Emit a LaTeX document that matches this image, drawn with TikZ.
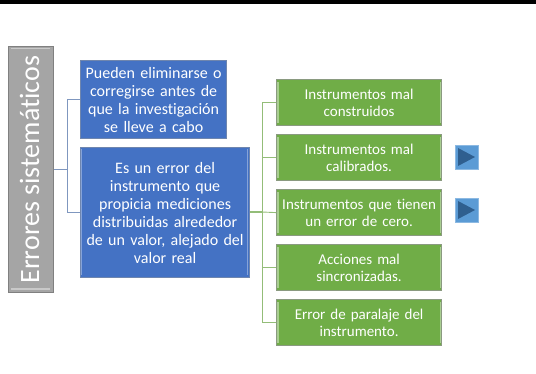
\documentclass[tikz,border=0pt]{standalone}
\usepackage{fontspec}
\setmainfont[Ligatures=NoCommon]{Carlito}
\definecolor{bluefill}{HTML}{4472C4}
\definecolor{blueedge}{HTML}{6F86AE}
\definecolor{greenfill}{HTML}{70AD47}
\definecolor{greenedge}{HTML}{8A9A80}
\definecolor{greyfill}{HTML}{A5A5A5}
\definecolor{btnfill}{HTML}{5B9BD5}
\definecolor{btnmark}{HTML}{2F5F8F}
\definecolor{bluelink}{HTML}{7F97BF}
\definecolor{greenlink}{HTML}{93BD78}
\tikzset{
 x=1pt,y=-1pt,
 boxbase/.style={draw,line width=1.2pt,inner sep=0pt,align=center,text=white,anchor=north west,font=\fontsize{16}{18}\selectfont},
 bluebox/.style={boxbase,fill=bluefill,draw=blueedge},
 greenbox/.style={boxbase,fill=greenfill,draw=greenedge,minimum width=165pt,minimum height=46pt,text width=165pt,font=\fontsize{15}{17}\selectfont},
 bluelinkstyle/.style={draw=bluelink,line width=0.9pt},
 greenlinkstyle/.style={draw=greenlink,line width=0.9pt},
 btnbox/.style={draw=btnfill!70!white,fill=btnfill,line width=.6pt,minimum width=23pt,minimum height=24pt,inner sep=0pt,anchor=north west},
 btnmarkstyle/.style={fill=btnmark,draw=none},
 bevelblue/.style={draw=bluefill!65!white,line width=1.2pt},
 bevelgreen/.style={draw=greenfill!60!white,line width=1.2pt},
 bevelgrey/.style={draw=greyfill!60!white,line width=1.2pt},
}
\begin{document}
\begin{tikzpicture}
\useasboundingbox (0,0) rectangle (536,374);
\fill[black] (0,0) rectangle (536,4);
\node[boxbase,fill=greyfill,draw=gray,minimum width=45pt,minimum height=246pt,anchor=north west] (root) at (8,46) {};
\draw[bevelgrey] (11,48.5) -- (50,48.5);
\draw[bevelgrey] (11,289) -- (50,289);
\node[rotate=90,text=white,font=\fontsize{28}{32}\selectfont,inner sep=0pt] (roottext) at ([xshift=-1.5pt]root.center) {Errores sistemáticos};
\node[bluebox,minimum width=146pt,minimum height=78pt,text width=146pt] (b1) at (80,60) {Pueden eliminarse o\\corregirse antes de\\que la investigación\\se lleve a cabo};
\node[bluebox,minimum width=169pt,minimum height=130pt,text width=169pt] (b2) at (80,147) {Es un error del\\instrumento que\\propicia mediciones\\distribuidas alrededor\\de un valor, alejado del\\valor real};
\node[greenbox] (g1) at (276,79) {Instrumentos mal\\construidos};
\node[greenbox] (g2) at (276,134) {Instrumentos mal\\calibrados.};
\node[greenbox] (g3) at (276,189) {Instrumentos que tienen\\un error de cero.};
\node[greenbox] (g4) at (276,244) {Acciones mal\\sincronizadas.};
\node[greenbox] (g5) at (276,299) {Error de paralaje del\\instrumento.};
\draw[bevelblue] (81.5,149) -- (81.5,275);
\draw[bevelblue] (247.5,149) -- (247.5,275);
\foreach \n in {g1,g2,g3,g4,g5}{
 \draw[bevelgreen] ([shift={(2,3)}]\n.north west) -- ([shift={(2,-3)}]\n.south west);
 \draw[bevelgreen] ([shift={(-2,3)}]\n.north east) -- ([shift={(-2,-3)}]\n.south east);
}
\coordinate (tb) at (67.5,169);
\coordinate (tg) at (262,212);
\draw[bluelinkstyle] (root.east |- tb) -- (tb);
\draw[bluelinkstyle] (b1.west) -| (tb);
\draw[bluelinkstyle] (b2.west |- 0,212) -| (tb);
\draw[greenlinkstyle,line width=1.2pt] (b2.east |- tg) -- (tg);
\draw[greenlinkstyle] (g1.west) -| (tg);
\draw[greenlinkstyle] (g2.west) -| (tg);
\draw[greenlinkstyle] (g3.west) -- (tg);
\draw[greenlinkstyle] (g4.west) -| (tg);
\draw[greenlinkstyle] (g5.west) -| (tg);
\node[btnbox] (p1) at (455,145) {};
\node[btnbox] (p2) at (455,198) {};
\fill[btnmarkstyle] (458,148) -- (475,157) -- (458,166) -- cycle;
\fill[btnmarkstyle] (458,201) -- (475,210) -- (458,219) -- cycle;
\end{tikzpicture}
\end{document}
